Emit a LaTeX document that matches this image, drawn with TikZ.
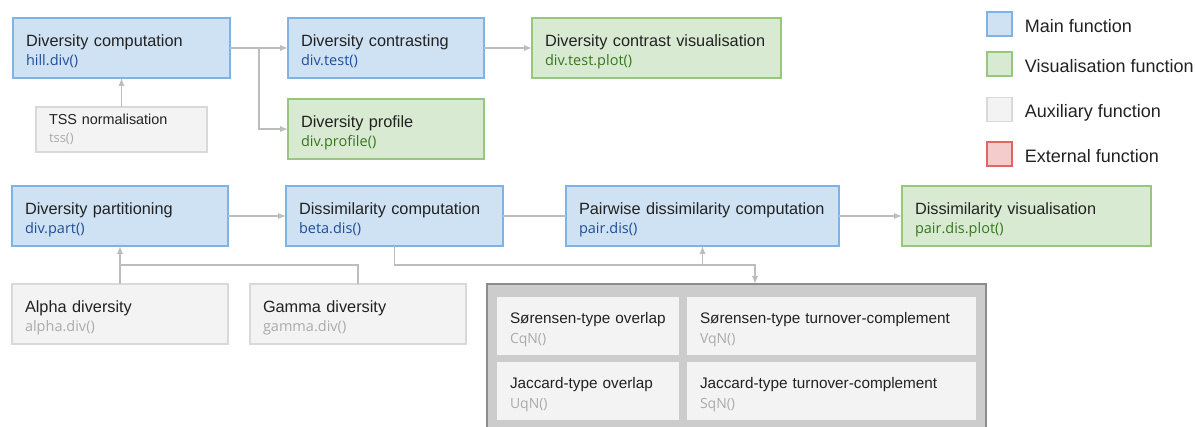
\documentclass[tikz,border=0pt]{standalone}
\usepackage{fontspec}
\setmainfont{Liberation Sans}
\newfontfamily\codefont{Open Sans}
\usepackage{xcolor}
\usetikzlibrary{arrows.meta,calc,positioning}

\definecolor{mainfill}{HTML}{CFE2F3}
\definecolor{mainline}{HTML}{7FB2E5}
\definecolor{maincode}{HTML}{1F4E9A}
\definecolor{visfill}{HTML}{D9EAD3}
\definecolor{visline}{HTML}{97C77F}
\definecolor{viscode}{HTML}{38761D}
\definecolor{auxfill}{HTML}{F3F3F3}
\definecolor{auxline}{HTML}{D9D9D9}
\definecolor{auxcode}{HTML}{ABABAB}
\definecolor{extfill}{HTML}{F4CCCC}
\definecolor{extline}{HTML}{E06666}
\definecolor{grpfill}{HTML}{CCCCCC}
\definecolor{grpline}{HTML}{8C8C8C}
\definecolor{linegray}{HTML}{BDBDBD}
\definecolor{txt}{HTML}{222222}
\colorlet{codecol}{maincode}

% function name + call, two lines
\newcommand{\codesize}{\fontsize{14.5}{19.5}\selectfont}
\newcommand{\fn}[2]{\mbox{#1}\\\mbox{\codefont\codesize\color{codecol}#2}}

\tikzset{%
	fnbox/.style    = {draw, rectangle, line width=1.3pt, inner xsep=13pt, inner ysep=0pt, outer sep=0pt, align=left, text=txt, text height=28.5pt, text depth=31.5pt},
	wd/.style       = {text width=#1pt-26pt},
	mainfn/.style   = {fnbox, fill=mainfill, draw=mainline, font={\fontsize{16.3}{19.5}\selectfont\colorlet{codecol}{maincode}}},
	visfn/.style    = {fnbox, fill=visfill, draw=visline, font={\fontsize{16.3}{19.5}\selectfont\colorlet{codecol}{viscode}}},
	auxfn/.style    = {fnbox, fill=auxfill, draw=auxline, font={\fontsize{16.3}{19.5}\selectfont\colorlet{codecol}{auxcode}}},
	auxsmall/.style = {auxfn, text height=18pt, text depth=27pt, font={\fontsize{14.4}{18}\selectfont\colorlet{codecol}{auxcode}\def\codesize{\fontsize{13}{18}\selectfont}}},
	cell/.style     = {auxfn, draw=none, text height=27pt, text depth=31pt, font={\fontsize{15.3}{20}\selectfont\colorlet{codecol}{auxcode}\def\codesize{\fontsize{14}{20}\selectfont}}},
	group/.style    = {draw=grpline, fill=grpfill, line width=1.8pt, inner sep=0pt, outer sep=0pt},
	legbox/.style   = {draw, rectangle, line width=1.3pt, minimum width=25pt, minimum height=24pt, inner sep=0pt},
	legtext/.style  = {text=txt, font=\fontsize{18}{20}\selectfont, inner sep=0pt, text height=13pt, text depth=0pt, yshift=-2pt},
	conn/.style     = {draw=linegray, line width=1.8pt},
	arrow/.style    = {conn, -{Latex[length=8pt,width=6.5pt]}},
}

\begin{document}
\begin{tikzpicture}[x=1pt, y=-1pt, node distance=58pt]
	\useasboundingbox (0,0) rectangle (1195,427);
	\clip (0,0) rectangle (1195,427);

	% alpha diversity part
	\node[mainfn, wd=217] (hdiv) at (121.5,48) {\fn{Diversity computation}{hill.div()}};
	\node[mainfn, wd=196, right=of hdiv] (dtest) {\fn{Diversity contrasting}{div.test()}};
	\node[visfn, wd=249, right=48pt of dtest] (dplot) {\fn{Diversity contrast visualisation}{div.test.plot()}};
	\node[visfn, wd=196, below=21pt of dtest] (dprof) {\fn{Diversity profile}{div.profile()}};
	\node[auxsmall, wd=171, below=29pt of hdiv] (tss) {\fn{TSS normalisation}{tss()}};

	% beta diversity part
	\node[mainfn, wd=216] (dpart) at (120,216) {\fn{Diversity partitioning}{div.part()}};
	\node[mainfn, wd=217, right=of dpart] (bdis) {\fn{Dissimilarity computation}{beta.dis()}};
	\node[mainfn, wd=273, right=63pt of bdis] (pdis) {\fn{Pairwise dissimilarity computation}{pair.dis()}};
	\node[visfn, wd=249, right=63pt of pdis] (pplot) {\fn{Dissimilarity visualisation}{pair.dis.plot()}};
	\node[auxfn, wd=216, below=38pt of dpart] (alpha) {\fn{Alpha diversity}{alpha.div()}};
	\node[auxfn, wd=216, right=22pt of alpha] (gamma) {\fn{Gamma diversity}{gamma.div()}};

	% similarity measures
	\node[group, minimum width=499pt, minimum height=150pt, anchor=north west] (grp) at (487,284) {};
	\node[cell, wd=182, anchor=north west] (cqn) at ($(grp.north west)+(10,13)$) {\fn{Sørensen-type overlap}{CqN()}};
	\node[cell, wd=289, right=8pt of cqn] (vqn) {\fn{Sørensen-type turnover-complement}{VqN()}};
	\node[cell, wd=182, below=7pt of cqn] (uqn) {\fn{Jaccard-type overlap}{UqN()}};
	\node[cell, wd=289, right=8pt of uqn] (sqn) {\fn{Jaccard-type turnover-complement}{SqN()}};

	% legend
	\node[legbox, fill=mainfill, draw=mainline] (lmain) at (999.5,24) {};
	\node[legbox, fill=visfill, draw=visline] (lvis) at (999.5,64) {};
	\node[legbox, fill=auxfill, draw=auxline] (laux) at (999.5,109.5) {};
	\node[legbox, fill=extfill, draw=extline] (lext) at (999.5,154) {};
	\node[legtext, right=12pt of lmain] (lmaintxt) {Main function};
	\node[legtext, right=12pt of lvis] (lvistxt) {Visualisation function};
	\node[legtext, right=12pt of laux] (lauxtxt) {Auxiliary function};
	\node[legtext, right=12pt of lext] (lexttxt) {External function};

	% connectors
	\draw[arrow] (hdiv) -- (dtest);
	\draw[arrow] ($(hdiv.east)!.5!(dtest.west)$) |- (dprof);
	\draw[arrow] (dtest) -- (dplot);
	\draw[arrow] (tss) -- (hdiv);
	\draw[arrow] (dpart) -- (bdis);
	\draw[conn] (bdis) -- (pdis);
	\draw[arrow] (pdis) -- (pplot);
	\draw[arrow] (alpha) -- (dpart);
	\coordinate (jpart) at ($(alpha.north)!.5!(dpart.south)$);
	\draw[conn] (gamma) |- (jpart);
	\coordinate (jgrp) at (755,265);
	\draw[arrow] (bdis) |- (jgrp) -- (jgrp |- grp.north);
	\draw[arrow] (pdis.south |- jgrp) -- (pdis);
\end{tikzpicture}
\end{document}
